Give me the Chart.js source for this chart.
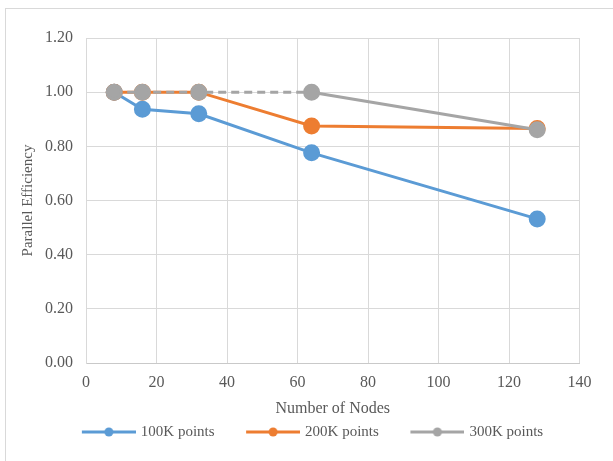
<!DOCTYPE html>
<html>
<head>
<meta charset="utf-8">
<script src="https://cdn.jsdelivr.net/npm/chart.js@4"></script>
<style>
  html, body { margin: 0; padding: 0; background: #ffffff; }
  #wrap { width: 613px; height: 461px; }
</style>
</head>
<body>
<div id="wrap"><canvas id="effChart" width="613" height="461"></canvas></div>
<script>
const NODES = [8, 16, 32, 64, 128];
const SERIES_NAMES = ['100K points', '200K points', '300K points'];
const EFF_100K = [1.00, 0.937, 0.92, 0.776, 0.532];
const EFF_200K = [1.00, 1.00, 1.00, 0.875, 0.866];
const EFF_300K = [1.00, 1.00, 1.00, 1.00, 0.861];
const COLORS = ['#5B9BD5', '#ED7D31', '#A5A5A5'];
const TEXT = '#595959';
const GRID = '#d9d9d9';
const FONT = 'Liberation Serif';

function toPoints(values) {
  return NODES.map((n, i) => ({ x: n, y: values[i] }));
}

// legend sample: short line with a dot, like the Excel key
function legendSample(color) {
  const c = document.createElement('canvas');
  c.width = 83;
  c.height = 12;
  const g = c.getContext('2d');
  g.strokeStyle = color;
  g.lineWidth = 3;
  g.beginPath();
  g.moveTo(29, 6);
  g.lineTo(83, 6);
  g.stroke();
  g.fillStyle = color;
  g.beginPath();
  g.arc(56, 6, 4.5, 0, Math.PI * 2);
  g.fill();
  return c;
}

const frame = {
  id: 'frame',
  beforeDraw(chart) {
    const ctx = chart.ctx;
    ctx.save();
    ctx.strokeStyle = GRID;
    ctx.lineWidth = 1;
    ctx.strokeRect(5.5, 8.5, 700, 700);
    ctx.restore();
  }
};

const samples = COLORS.map(legendSample);

const datasets = [EFF_100K, EFF_200K, EFF_300K].map((vals, i) => ({
  label: SERIES_NAMES[i],
  data: toPoints(vals),
  borderColor: COLORS[i],
  backgroundColor: COLORS[i],
  pointBackgroundColor: COLORS[i],
  pointBorderColor: COLORS[i],
  borderWidth: 3,
  pointRadius: 7,
  pointHoverRadius: 7,
  tension: 0,
  order: 3 - i
}));
// gray series is dashed where it overlaps the others
datasets[2].segment = {
  borderDash: ctx => (ctx.p1DataIndex <= 3 ? [8, 5] : undefined)
};

new Chart(document.getElementById('effChart').getContext('2d'), {
  type: 'line',
  data: { datasets },
  plugins: [frame],
  options: {
    responsive: false,
    animation: false,
    layout: { padding: { left: 19, right: 33.5, top: 38, bottom: 11.5 } },
    plugins: {
      tooltip: { enabled: false },
      legend: {
        position: 'bottom',
        align: 'center',
        labels: {
          usePointStyle: true,
          pointStyleWidth: 78,
          padding: 5,
          color: TEXT,
          font: { family: FONT, size: 15 },
          sort: (a, b) => a.datasetIndex - b.datasetIndex,
          generateLabels(chart) {
            const items = Chart.defaults.plugins.legend.labels.generateLabels(chart);
            items.forEach(it => { it.pointStyle = samples[it.datasetIndex]; });
            return items;
          }
        }
      }
    },
    scales: {
      x: {
        type: 'linear',
        min: 0,
        max: 140,
        ticks: { stepSize: 20, padding: 10.5, color: TEXT, font: { family: FONT, size: 16 } },
        grid: { color: GRID, drawTicks: false },
        border: { color: '#c9c9c9' },
        title: {
          display: true,
          text: 'Number of Nodes',
          color: TEXT,
          font: { family: FONT, size: 16 },
          padding: { top: 0, bottom: 1 }
        },
        afterFit(scale) { scale.height = 56.5; }
      },
      y: {
        min: 0,
        max: 1.2,
        ticks: {
          stepSize: 0.2,
          padding: 13,
          color: TEXT,
          font: { family: FONT, size: 16 },
          callback: v => v.toFixed(2)
        },
        grid: { color: GRID, drawTicks: false },
        border: { color: GRID },
        title: {
          display: true,
          text: 'Parallel Efficiency',
          color: TEXT,
          font: { family: FONT, size: 15 },
          padding: { top: 0, bottom: 0 }
        },
        afterFit(scale) { scale.width = 67; }
      }
    }
  }
});
</script>
</body>
</html>
